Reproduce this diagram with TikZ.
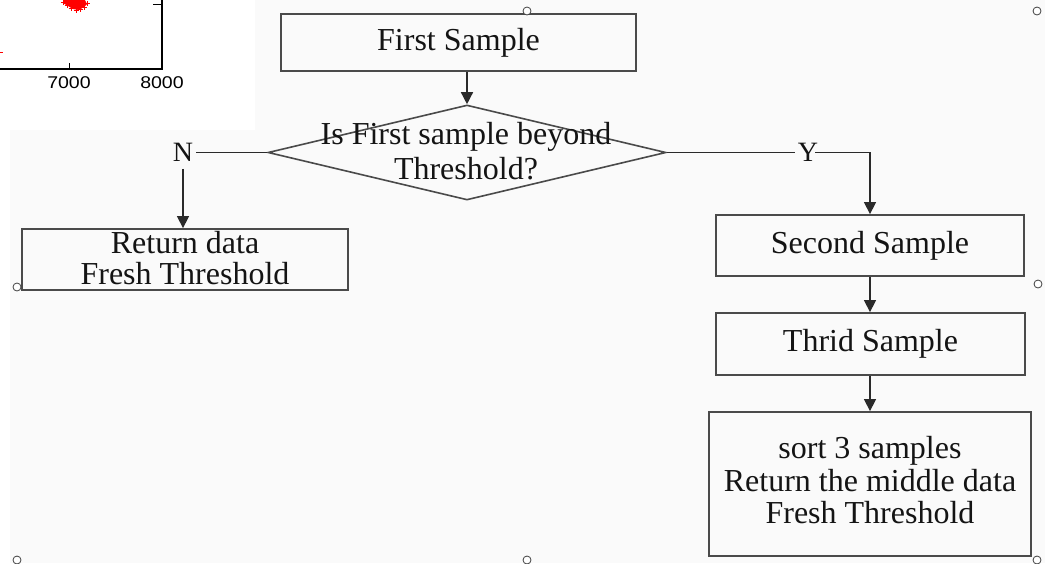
\documentclass[tikz,border=0pt]{standalone}
\usepackage{fontspec}
\setmainfont{Liberation Serif}
\newfontfamily\plotfont{Liberation Sans}[FakeStretch=1.15]
\usetikzlibrary{shapes.geometric,arrows.meta}
\definecolor{bggray}{HTML}{FAFAFA}
\definecolor{boxgray}{HTML}{4A4A4A}
\definecolor{linegray}{HTML}{2A2A2A}
\definecolor{txt}{HTML}{141414}
\begin{document}
\begin{tikzpicture}[x=1pt,y=-1pt,
  box/.style={draw=boxgray, line width=1.8pt, rectangle, inner sep=0pt, align=center, text=txt,
    font=\fontsize{32}{32.5}\selectfont},
  conn/.style={draw=linegray, line width=1.4pt},
  arr/.style={conn, -{Triangle[length=12pt,width=12pt]}},
  lbl/.style={inner sep=0pt, text=txt, font=\fontsize{28}{28}\selectfont},
  handle/.style={circle, draw=black!75, fill=white, line width=0.8pt, minimum size=8pt, inner sep=0pt},
  plotlbl/.style={inner sep=0pt, font=\plotfont\fontsize{17}{17}\selectfont}
]
\useasboundingbox (0,0) rectangle (1045,563);
% background
\fill[bggray] (0,0) rectangle (1045,563);
\fill[white] (0,0) rectangle (255,130);
\fill[white] (0,130) rectangle (10,563);
% plot fragment
\draw[black, line width=1.2pt] (0,69) -- (162,69) -- (162,-2);
\draw[black, line width=0.8pt] (69,69) -- (69,63);
\draw[black, line width=0.8pt] (162,4) -- (153,4);
\node[plotlbl] (l7) at (69,83) {7000};
\node[plotlbl] (l8) at (162,83) {8000};
\begin{scope}[red, line width=0.9pt]
  \fill (64,0) -- (85,0) -- (87,4) -- (84,7) -- (79,10) -- (73,9) -- (68,6) -- (63,3) -- cycle;
  \foreach \px/\py in {63/2,67/5,71/8,76/10,80/9,84/7,87/3,78/1,70/1,75/4}{
    \draw (\px-2.5,\py) -- (\px+2.5,\py) (\px,\py-2.5) -- (\px,\py+2.5);
  }
  \draw (0,52) -- (3,52);
\end{scope}
% flowchart
\node[box, minimum width=355pt, minimum height=57pt] (first) at (458.5,42.5) {First Sample};
\node[diamond, draw=boxgray, line width=1.6pt, minimum width=398pt, minimum height=95pt, inner sep=0pt] (dia) at (467,152.5) {};
\node[inner sep=0pt, align=center, text=txt, font=\fontsize{32}{35}\selectfont] (q) at (466,151) {Is First sample beyond\\Threshold?};
\node[lbl] (N) at (183,152.5) {N};
\node[lbl] (Y) at (808,152.5) {Y};
\node[box, minimum width=326pt, minimum height=61pt, text depth=4pt, font=\fontsize{32}{31}\selectfont] (ret) at (185,259.5) {Return data\\Fresh Threshold};
\node[box, minimum width=308pt, minimum height=61pt] (second) at (870,245.5) {Second Sample};
\node[box, minimum width=309pt, minimum height=62pt] (third) at (870.5,344) {Thrid Sample};
\node[box, minimum width=322pt, minimum height=144pt, text depth=8pt] (final) at (870,484) {sort 3 samples\\Return the middle data\\Fresh Threshold};
% connectors
\draw[arr] (first.south -| dia.north) -- (dia.north);
\draw[conn, shorten >=3pt] (dia.west) -- (N.east);
\draw[arr, shorten <=7pt] (N.south) -- (N.south |- ret.north);
\draw[conn, shorten >=3pt] (dia.east) -- (Y.west);
\draw[arr, shorten <=-3pt] (Y.east) -| (second.north);
\draw[arr] (second.south) -- (second.south |- third.north);
\draw[arr] (third.south -| final.north) -- (final.north);
% selection handles
\node[handle] (h1) at (527,11) {};
\node[handle] (h2) at (1037,11) {};
\node[handle] (h3) at (17,287) {};
\node[handle] (h4) at (1038,284) {};
\node[handle] (h5) at (17,560) {};
\node[handle] (h6) at (527,560) {};
\node[handle] (h7) at (1037,560) {};
\end{tikzpicture}
\end{document}
